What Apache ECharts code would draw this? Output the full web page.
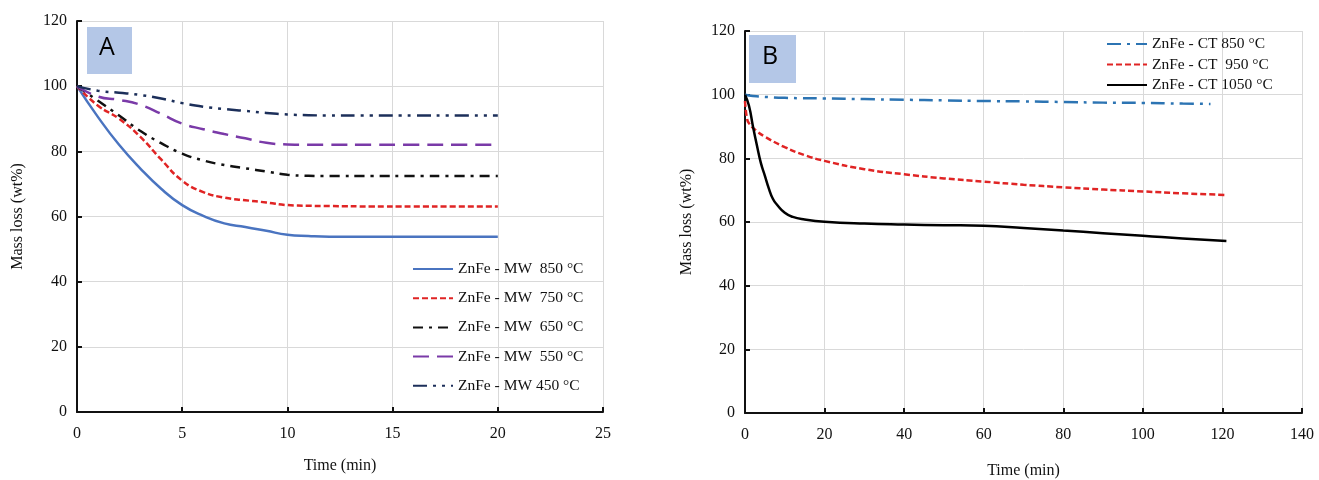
<!DOCTYPE html>
<html>
<head>
<meta charset="utf-8">
<script src="https://cdn.jsdelivr.net/npm/echarts@6/dist/echarts.min.js"></script>
<style>
  html, body { margin: 0; padding: 0; background: #fff; }
  #chart { width: 1319px; height: 480px; }
</style>
</head>
<body>
<div id="chart"></div>
<script>
  /* panel A - microwave, time in min */
  var timeA = [0, 1, 2, 3, 4, 5, 6, 7, 8, 9, 10, 11, 12, 14, 16, 18, 20]
  var mw850 = [100, 90.5, 82, 74.8, 68.5, 63.5, 60.2, 57.9, 56.8, 55.6, 54.4, 54, 53.8, 53.8, 53.8, 53.8, 53.8]
  var mw750 = [100, 94, 90, 84.5, 77.5, 71, 67.5, 65.8, 65, 64.3, 63.5, 63.3, 63.2, 63.1, 63.1, 63.1, 63.1]
  var mw650 = [100, 95.5, 91, 86.3, 82.5, 79.3, 77.2, 75.8, 74.8, 73.8, 72.8, 72.5, 72.4, 72.4, 72.4, 72.4, 72.4]
  var mw550 = [100, 96.8, 95.8, 94.3, 91.5, 88.5, 86.8, 85.3, 84, 82.6, 82.1, 82, 82, 82, 82, 82, 82]
  var mw450 = [100, 98.6, 98, 97.3, 96.2, 94.8, 93.7, 93, 92.4, 91.8, 91.3, 91.1, 91, 91, 91, 91, 91]

  /* panel B - conventional, time in min */
  var timeCT850 = [0, 2, 5, 10, 20, 30, 40, 50, 60, 70, 80, 90, 100, 110, 117]
  var ct850 = [100, 99.6, 99.3, 99.0, 98.8, 98.6, 98.4, 98.2, 98.0, 97.9, 97.7, 97.5, 97.4, 97.2, 97.1]
  var timeCT950 = [0, 0.5, 1, 3, 5, 10, 15, 20, 30, 40, 50, 60, 70, 80, 90, 100, 110, 121]
  var ct950 = [98, 92.5, 91, 88.5, 86.8, 83.5, 81, 79.2, 76.6, 75, 73.7, 72.7, 71.7, 70.9, 70.2, 69.6, 69, 68.5]
  var timeCT1050 = [0, 1, 2, 3, 4, 5, 6, 7, 8, 10, 12, 15, 20, 30, 40, 50, 60, 70, 80, 90, 100, 110, 121]
  var ct1050 = [100, 96.5, 90, 84, 78.5, 74.5, 70.5, 67.3, 65.5, 62.9, 61.6, 60.8, 60.1, 59.5, 59.2, 59, 58.8, 58.1, 57.3, 56.5, 55.7, 54.8, 54]

  var namesA = ['ZnFe - MW  850 °C', 'ZnFe - MW  750 °C', 'ZnFe - MW  650 °C', 'ZnFe - MW  550 °C', 'ZnFe - MW 450 °C']
  var namesB = ['ZnFe - CT 850 °C', 'ZnFe - CT  950 °C', 'ZnFe - CT 1050 °C']

  var serif = '"Liberation Serif", "DejaVu Serif", serif'

  function pairs(xs, ys) {
    return xs.map(function (x, i) { return [x, ys[i]] })
  }

  function lineSeries(name, idx, xs, ys, color, dash) {
    return {
      name: name,
      type: 'line',
      xAxisIndex: idx,
      yAxisIndex: idx,
      data: pairs(xs, ys),
      smooth: 0.5,
      showSymbol: false,
      symbol: 'none',
      lineStyle: { color: color, width: 2.5, type: dash },
      itemStyle: { color: color },
      z: 3
    }
  }

  function xAxisOf(idx, max, interval, gap) {
    return {
      type: 'value', gridIndex: idx, min: 0, max: max, interval: interval,
      name: 'Time (min)', nameLocation: 'middle', nameGap: gap,
      nameTextStyle: { fontFamily: serif, fontSize: 16, color: '#111' },
      axisLine: { lineStyle: { color: '#111', width: 2 } },
      axisTick: { inside: true, length: 5, lineStyle: { color: '#111', width: 2 } },
      axisLabel: { fontFamily: serif, fontSize: 16, color: '#111', margin: 14 },
      splitLine: { lineStyle: { color: '#d9d9d9', width: 1 } }
    }
  }

  function yAxisOf(idx, gap) {
    return {
      type: 'value', gridIndex: idx, min: 0, max: 120, interval: 20,
      name: 'Mass loss (wt%)', nameLocation: 'middle', nameGap: gap,
      nameTextStyle: { fontFamily: serif, fontSize: 16, color: '#111' },
      axisLine: { show: true, lineStyle: { color: '#111', width: 2 } },
      axisTick: { show: true, inside: true, length: 5, lineStyle: { color: '#111', width: 2 } },
      axisLabel: { fontFamily: serif, fontSize: 16, color: '#111', margin: 10 },
      splitLine: { lineStyle: { color: '#d9d9d9', width: 1 } }
    }
  }

  var chart = echarts.init(document.getElementById('chart'))
  chart.setOption({
    animation: false,
    grid: [
      { left: 77, top: 21, width: 526, height: 391, outerBoundsMode: 'none' },
      { left: 745, top: 31, width: 557, height: 382, outerBoundsMode: 'none' }
    ],
    xAxis: [xAxisOf(0, 25, 5, 46), xAxisOf(1, 140, 20, 50)],
    yAxis: [yAxisOf(0, 51), yAxisOf(1, 50)],
    legend: [
      {
        data: namesA, orient: 'vertical', left: 412, top: 261, padding: 0,
        itemWidth: 40, itemHeight: 14, itemGap: 13.2,
        itemStyle: { opacity: 0 },
        textStyle: { fontFamily: serif, fontSize: 15.5, color: '#111' }
      },
      {
        data: namesB, orient: 'vertical', left: 1106, top: 36, padding: 0,
        itemWidth: 40, itemHeight: 14, itemGap: 4.5,
        itemStyle: { opacity: 0 },
        textStyle: { fontFamily: serif, fontSize: 15.5, color: '#111' }
      }
    ],
    graphic: [
      { type: 'rect', left: 87, top: 27, shape: { width: 45, height: 47 }, style: { fill: '#b4c7e7' } },
      { type: 'text', left: 99, top: 35, style: { text: 'A', fontSize: 25, fontFamily: '"Open Sans", sans-serif', fill: '#000' } },
      { type: 'rect', left: 749, top: 35, shape: { width: 47, height: 48 }, style: { fill: '#b4c7e7' } },
      { type: 'text', left: 762, top: 44, style: { text: 'B', fontSize: 25, fontFamily: '"Open Sans", sans-serif', fill: '#000' } }
    ],
    series: [
      lineSeries(namesA[0], 0, timeA, mw850, '#4a74c0', 'solid'),
      lineSeries(namesA[1], 0, timeA, mw750, '#e02424', [6, 3]),
      lineSeries(namesA[2], 0, timeA, mw650, '#111111', [10, 6, 3, 6]),
      lineSeries(namesA[3], 0, timeA, mw550, '#7a3aa8', [16, 8]),
      lineSeries(namesA[4], 0, timeA, mw450, '#1c2f5a', [14, 6, 3, 6, 3, 6]),
      lineSeries(namesB[0], 1, timeCT850, ct850, '#2c74b3', [14, 6, 3, 6]),
      lineSeries(namesB[1], 1, timeCT950, ct950, '#e02424', [6, 3]),
      lineSeries(namesB[2], 1, timeCT1050, ct1050, '#000000', 'solid')
    ]
  })
</script>
</body>
</html>
